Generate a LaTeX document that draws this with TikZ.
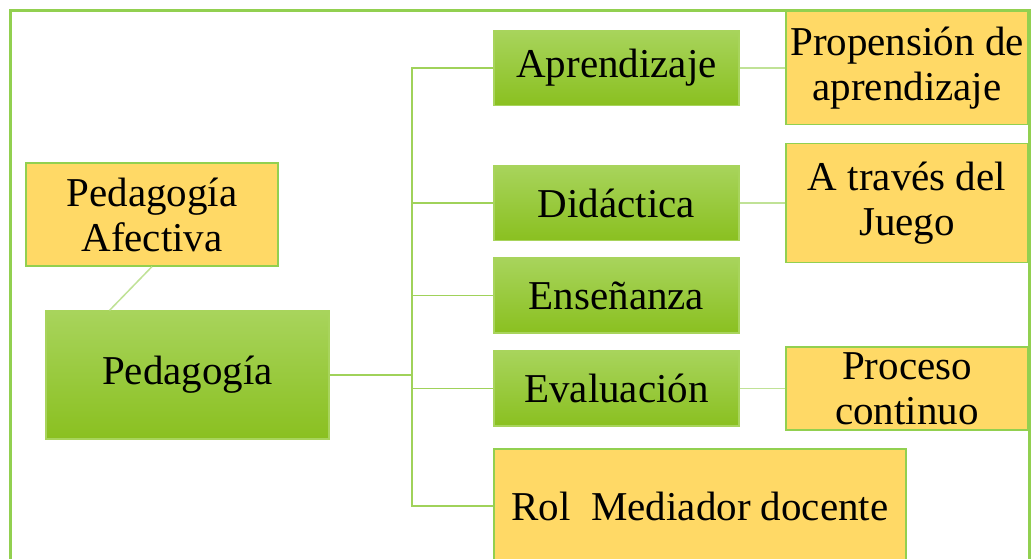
\documentclass[tikz,border=0pt]{standalone}
\usepackage{fontspec}
\setmainfont{Liberation Serif}
\usetikzlibrary{positioning}
\definecolor{frameg}{RGB}{146,208,80}
\definecolor{lineg}{RGB}{160,210,90}
\definecolor{paleg}{RGB}{192,226,150}
\definecolor{gtop}{RGB}{168,212,92}
\definecolor{gmid}{RGB}{152,206,52}
\definecolor{gbot}{RGB}{138,192,32}
\definecolor{gold}{RGB}{255,217,102}
\tikzset{
	greenbox/.style={rectangle, draw=gtop, line width=1.2pt, top color=gtop, middle color=gmid, bottom color=gbot, minimum width=245pt, minimum height=75pt, inner sep=0pt, align=center, font=\fontsize{41}{45}\selectfont},
	yellowbox/.style={rectangle, draw=frameg, line width=1.2pt, fill=gold, inner sep=0pt, align=center, font=\fontsize{41}{45}\selectfont},
	link/.style={line width=1.5pt, color=lineg},
	palelink/.style={line width=1.5pt, color=paleg}
}

\begin{document}
\begin{tikzpicture}[x=1pt, y=-1pt]
			%%%%% FRAME %%%%%
			\clip (0, 0) rectangle (1031, 558);
			\fill[white] (0, 0) rectangle (1031, 558);
			\draw[line width=3pt, color=frameg] (10, 620) -- (10, 10) -- (1029, 10) -- (1029, 620);
			
			%%%%% LEFT %%%%%
			\node[yellowbox, minimum width=252pt, minimum height=103pt] (pedaf) at (152, 214.5) {Pedagogía\\Afectiva};
			\node[greenbox, minimum width=283pt, minimum height=128pt] (ped) at (187.5, 375) {Pedagogía};
			
			%%%%% MIDDLE %%%%%
			\node[greenbox] (apr) at (616.5, 68) {Aprendizaje};
			\node[greenbox] (did) at (616.5, 203) {Didáctica};
			\node[greenbox] (ens) at (616.5, 295.5) {Enseñanza};
			\node[greenbox] (eva) at (616.5, 388.5) {Evaluación};
			\node[yellowbox, minimum width=412pt, minimum height=114pt] (rol) at (700, 506) {Rol\ \ Mediador docente};
			
			%%%%% RIGHT %%%%%
			\node[yellowbox, minimum width=242pt, minimum height=113pt] (prop) at (907, 68) {Propensión de\\aprendizaje};
			\node[yellowbox, minimum width=242pt, minimum height=119pt] (juego) at (907, 203) {A través del\\Juego};
			\node[yellowbox, minimum width=242pt, minimum height=83pt] (proc) at (907, 388.5) {Proceso\\continuo};
			
			%%%%% LINKS %%%%%
			\coordinate (hub) at (412, 375);
			\draw[palelink] (pedaf.south) -- ([xshift=-78pt]ped.north);
			\draw[link] (ped.east) -- (hub);
			\draw[link] (hub) |- (apr.west);
			\draw[link] (hub) |- (did.west);
			\draw[link] (hub) |- (ens.west);
			\draw[link] (hub) |- (eva.west);
			\draw[link] (hub) |- (rol.west);
			\draw[palelink] (apr.east) -- (prop.west);
			\draw[palelink] (did.east) -- (juego.west);
			\draw[palelink] (eva.east) -- (proc.west);
		\end{tikzpicture}
\end{document}
